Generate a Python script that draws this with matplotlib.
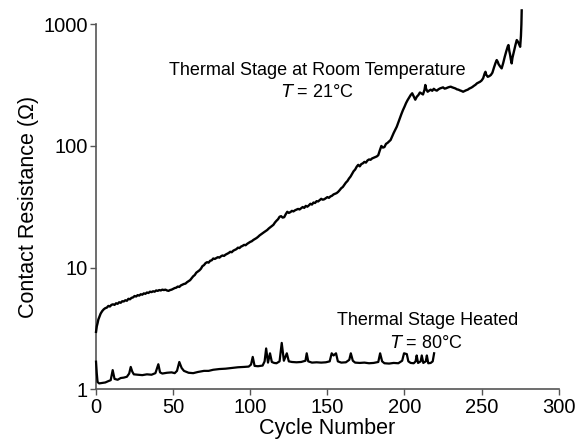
import matplotlib
matplotlib.use("Agg")
import matplotlib.pyplot as plt
from matplotlib.ticker import FixedLocator, FixedFormatter, NullLocator

plt.rcParams['font.family'] = ['Liberation Sans', 'DejaVu Sans']

# Thermal stage at room temperature (T = 21 C)
room_x = [0, 0.5, 1, 1.5, 2, 3, 4, 5, 6, 7, 8, 9, 10, 11, 12, 13, 14, 15, 16, 17, 18, 19, 20,
          21, 22, 23, 24, 25, 26, 27, 28, 29, 30, 31, 32, 33, 34, 35, 36, 37, 38, 39, 40,
          41, 42, 43, 44, 45, 46, 47, 48, 49, 50, 51, 52, 53, 54, 55, 56, 57, 58, 59, 60,
          61, 62, 63, 64, 65, 66, 67, 68, 69, 70, 71, 72, 73, 74, 75, 76, 77, 78, 79, 80,
          81, 82, 83, 84, 85, 86, 87, 88, 89, 90, 91, 92, 93, 94, 95, 96, 97, 98, 99, 100,
          101, 102, 103, 104, 105, 106, 107, 108, 109, 110, 111, 112, 113, 114, 115, 116, 117, 118, 119, 120,
          121, 122, 123, 124, 125, 126, 127, 128, 129, 130, 131, 132, 133, 134, 135, 136, 137, 138, 139, 140,
          141, 142, 143, 144, 145, 146, 147, 148, 149, 150, 151, 152, 153, 154, 155, 156, 157, 158, 159, 160,
          161, 162, 163, 164, 165, 166, 167, 168, 169, 170, 171, 172, 173, 174, 175, 176, 177, 178, 179, 180,
          181, 182, 183, 184, 185, 186, 187, 188, 189, 190, 191, 192, 193, 194, 195, 196, 197, 198, 199, 200,
          201, 202, 203, 204, 205, 206, 207, 208, 209, 210, 211, 212, 213, 213.5, 214, 215, 216, 217, 218, 219, 220,
          221, 222, 223, 224, 225, 226, 227, 228, 229, 230, 231, 232, 233, 234, 235, 236, 237, 238, 239, 240,
          241, 242, 243, 244, 245, 246, 247, 248, 249, 250, 251, 252, 252.5, 253, 254, 255, 256, 257, 258, 259, 259.8,
          260.5, 261, 262, 263, 264, 265, 266, 267, 267.4, 268, 268.5, 269, 269.5, 270, 271, 272, 272.8,
          273.5, 274, 275, 275.5, 275.8, 276]
room_y = [2.97, 3.3, 3.5, 3.75, 3.9, 4.2, 4.4, 4.55, 4.65, 4.7, 4.85, 4.8, 4.95, 5.0, 4.95, 5.1, 5.05, 5.2, 5.15, 5.3, 5.28, 5.4, 5.35,
          5.55, 5.5, 5.65, 5.7, 5.85, 5.8, 5.95, 5.9, 6.05, 6.0, 6.15, 6.1, 6.25, 6.2, 6.35, 6.3, 6.4, 6.35, 6.5, 6.45,
          6.55, 6.5, 6.6, 6.55, 6.6, 6.5, 6.45, 6.55, 6.6, 6.7, 6.8, 6.85, 7.0, 6.95, 7.15, 7.25, 7.35, 7.4, 7.6, 7.75,
          7.9, 8.2, 8.5, 8.7, 9.1, 9.3, 9.5, 9.8, 10.3, 10.5, 10.9, 11.1, 11.0, 11.4, 11.5, 11.9, 11.8, 12.0, 12.2, 12.1,
          12.4, 12.6, 12.5, 12.8, 13.0, 13.2, 13.5, 13.4, 13.8, 14.0, 14.2, 14.6, 14.5, 14.9, 15.1, 15.4, 15.3, 15.7, 16.0, 16.3,
          16.5, 16.9, 17.2, 17.5, 17.9, 18.4, 18.8, 19.2, 19.6, 20.0, 20.4, 21.0, 21.5, 22.0, 22.5, 23.5, 24.3, 25.0, 26.2, 26.5,
          25.8, 26.0, 27.5, 28.8, 28.2, 28.6, 29.3, 29.0, 29.6, 30.0, 30.4, 30.1, 30.8, 31.5, 31.0, 32.2, 31.7, 32.5, 33.5, 33.0,
          34.3, 34.0, 35.2, 35.0, 35.9, 36.8, 36.2, 36.5, 37.2, 38.0, 37.5, 38.5, 39.0, 40.0, 40.5, 41.0, 42.0, 43.4, 45.0, 46.0,
          48.0, 50.0, 51.5, 54.0, 56.0, 59.0, 62.0, 64.0, 67.5, 70.0, 68.0, 71.0, 72.0, 74.0, 73.0, 76.0, 77.5, 77.0, 79.0, 80.0,
          81.0, 82.0, 84.0, 92.0, 100.0, 97.0, 98.0, 104.0, 106.0, 109.0, 112.0, 120.0, 128.0, 136.0, 144.0, 156.0, 170.0, 183.0, 197.0, 210.0,
          225.0, 238.0, 250.0, 262.0, 271.0, 255.0, 240.0, 254.0, 262.0, 275.0, 270.0, 265.0, 290.0, 317.0, 295.0, 279.0, 285.0, 290.0, 284.0, 295.0, 288.0,
          285.0, 292.0, 297.0, 300.0, 303.0, 296.0, 298.0, 302.0, 305.0, 307.0, 303.0, 300.0, 297.0, 292.0, 290.0, 286.0, 283.0, 279.0, 283.0, 287.0,
          290.0, 296.0, 300.0, 305.0, 312.0, 318.0, 327.0, 332.0, 337.0, 345.0, 360.0, 395.0, 407.0, 385.0, 370.0, 375.0, 383.0, 400.0, 440.0, 480.0, 508.0,
          490.0, 470.0, 450.0, 434.0, 480.0, 540.0, 600.0, 660.0, 675.0, 600.0, 560.0, 510.0, 477.0, 530.0, 600.0, 680.0, 742.0,
          720.0, 700.0, 653.0, 800.0, 1000.0, 1300.0]

# Thermal stage heated (T = 80 C)
heat_x = [0, 0.5, 1, 2, 4, 6, 8, 9.5, 10.8, 12, 14, 16, 18, 20, 21.5, 22.5, 23.5, 24.5, 27, 30, 33, 36,
          38.5, 40.4, 41.5, 43, 46, 49, 51, 52.5, 54, 55.5, 57, 60, 63, 66, 70, 73, 76, 80, 84, 88, 92, 96,
          99, 100.5, 101.6, 102.8, 105, 108, 109.3, 110.3, 111.5, 112.8, 114, 115.5, 117, 119, 120.4, 121.8,
          123.7, 125, 127, 130, 133, 135.8, 136.6, 137.6, 140, 143, 146, 149, 151.5, 152.8, 154, 155.6, 156.8,
          159, 162, 164.2, 165.2, 166.5, 168, 171, 174, 177, 180, 183, 184.2, 185.5, 187, 190, 193, 196, 198.5,
          199.7, 201.5, 202.5, 204, 206, 207.2, 207.9, 208.8, 210.5, 211.2, 212.2, 213.8, 214.5, 215.4, 217,
          218.3, 219.2]
heat_y = [1.69, 1.35, 1.15, 1.12, 1.13, 1.14, 1.17, 1.19, 1.44, 1.22, 1.2, 1.24, 1.25, 1.27, 1.35, 1.53, 1.4, 1.33, 1.32, 1.31, 1.33, 1.32,
          1.36, 1.61, 1.38, 1.35, 1.37, 1.38, 1.36, 1.42, 1.68, 1.5, 1.42, 1.37, 1.36, 1.39, 1.42, 1.42, 1.45, 1.47, 1.48, 1.5, 1.52, 1.53,
          1.54, 1.6, 1.85, 1.56, 1.55, 1.57, 1.7, 2.17, 1.66, 1.98, 1.68, 1.65, 1.64, 1.7, 2.41, 1.72,
          1.98, 1.7, 1.68, 1.67, 1.68, 1.72, 1.98, 1.7, 1.66, 1.67, 1.66, 1.67, 1.7, 1.98, 1.9, 1.98, 1.7,
          1.66, 1.67, 1.75, 1.98, 1.72, 1.66, 1.65, 1.66, 1.64, 1.65, 1.68, 1.98, 1.7, 1.64, 1.63, 1.65, 1.64, 1.72,
          1.98, 1.95, 1.7, 1.65, 1.64, 1.7, 1.9, 1.65, 1.7, 1.9, 1.65, 1.7, 1.9, 1.64, 1.65,
          1.7, 1.98]

x_ticks = [0, 50, 100, 150, 200, 250, 300]
y_ticks = [1, 10, 100, 1000]
y_tick_labels = ["1", "10", "100", "1000"]

fig = plt.figure(figsize=(5.82, 4.41), dpi=100)
ax = fig.add_axes([0.165, 0.117, 0.795, 0.828])

ax.plot(room_x, room_y, color="black", lw=1.7, clip_on=False, zorder=3)
ax.plot(heat_x, heat_y, color="black", lw=1.6, clip_on=False, zorder=3)

ax.set_yscale("log")
ax.set_xlim(0, 300)
ax.set_ylim(1, 1000)

ax.yaxis.set_major_locator(FixedLocator(y_ticks))
ax.yaxis.set_major_formatter(FixedFormatter(y_tick_labels))
ax.yaxis.set_minor_locator(NullLocator())
ax.set_xticks(x_ticks)

for s in ["top", "right"]:
    ax.spines[s].set_visible(False)
for s in ["left", "bottom"]:
    ax.spines[s].set_color("#555555")
    ax.spines[s].set_linewidth(1.2)

ax.tick_params(axis="both", direction="out", length=4, width=1.0, color="#555555",
               labelsize=14.5, pad=2)

ax.set_xlabel("Cycle Number", fontsize=15.5, labelpad=1)
ax.set_ylabel("Contact Resistance (Ω)", fontsize=15.5, labelpad=3)

ax.text(143.6, 420, "Thermal Stage at Room Temperature", ha="center", va="center", fontsize=13)
ax.text(143.6, 277, r"$\it{T}$ = 21°C", ha="center", va="center", fontsize=13)
ax.text(215, 3.71, "Thermal Stage Heated", ha="center", va="center", fontsize=13)
ax.text(214.5, 2.39, r"$\it{T}$ = 80°C", ha="center", va="center", fontsize=13)

fig.savefig("out.png", dpi=100)
